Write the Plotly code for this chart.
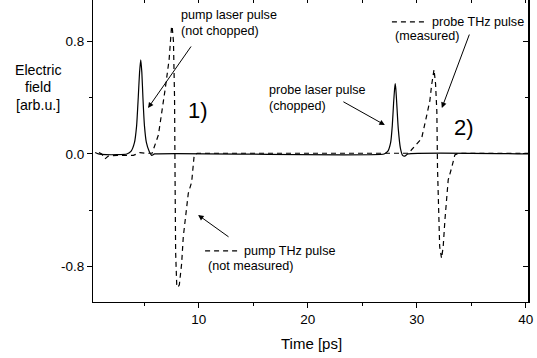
import plotly.graph_objects as go

# ---- data ----
laser_t = [0.5, 0.8, 1.5, 2.5, 3.4, 3.8, 4.1, 4.3, 4.45, 4.57, 4.68, 4.78, 4.88, 5.02, 5.2, 5.45, 5.7, 5.95,
           27.0, 27.35, 27.6, 27.75, 27.87, 27.96, 28.02, 28.08, 28.16, 28.3, 28.5, 28.7, 28.9, 29.2, 40.2]
laser_e = [0.01, 0.0, -0.005, -0.005, 0.0, 0.02, 0.08, 0.2, 0.4, 0.58, 0.67, 0.58, 0.4, 0.2, 0.08, 0.02, -0.01, 0.0,
           0.0, 0.02, 0.08, 0.2, 0.36, 0.46, 0.5, 0.46, 0.36, 0.18, 0.04, -0.01, -0.015, 0.0, 0.0]

thz_t = [0.85, 1.1, 1.4, 1.7, 2.5, 4.0, 4.6, 5.1, 5.72, 6.3,
         6.9, 7.28, 7.5, 7.56, 7.68, 7.78, 7.83, 7.88, 7.98, 8.08,
         8.22, 8.43, 8.58, 8.83, 9.04, 9.35, 9.58, 9.85, 29.3, 29.52,
         30.44, 30.9, 31.2, 31.36, 31.5, 31.58, 31.72, 31.84, 31.9, 32.0,
         32.1, 32.27, 32.42, 32.58, 32.73, 32.88, 33.19, 33.49, 33.8, 40.2]
thz_e = [0.01, 0.0, -0.035, -0.015, -0.01, -0.01, 0.01, 0.005, 0.005, 0.135,
         0.45, 0.67, 0.9, 0.91, 0.8, 0.4, -0.2, -0.7, -0.93, -0.95,
         -0.93, -0.78, -0.59, -0.40, -0.28, -0.20, -0.01, 0.005, 0.005, 0.03,
         0.11, 0.27, 0.38, 0.49, 0.585, 0.6, 0.5, 0.3, -0.1, -0.5,
         -0.66, -0.742, -0.66, -0.47, -0.35, -0.185, -0.10, -0.007, 0.005, 0.005]

x_tickvals = [10, 20, 30, 40]
x_ticktext = ["10", "20", "30", "40"]
x_minor = [5, 15, 25, 35]
y_tickvals = [-0.8, 0.0, 0.8]
y_ticktext = ["-0.8", "0.0", "0.8"]
y_minor = [-0.4, 0.4]
y_title_lines = ["Electric", "field", "[arb.u.]"]

X_RANGE = [0.3, 40.2]
Y_RANGE = [-1.053, 1.095]

FONT = "Liberation Sans, Arial, sans-serif"
DASH = "5px,4px"

fig = go.Figure()
fig.add_trace(go.Scatter(x=laser_t, y=laser_e, mode="lines",
                         line=dict(color="black", width=1.2, shape="spline", smoothing=0.5),
                         showlegend=False, hoverinfo="skip"))
fig.add_trace(go.Scatter(x=thz_t, y=thz_e, mode="lines",
                         line=dict(color="black", width=1.2, dash=DASH),
                         showlegend=False, hoverinfo="skip"))
# empty trace to register mirrored axes
fig.add_trace(go.Scatter(x=[], y=[], xaxis="x2", yaxis="y2", showlegend=False, hoverinfo="skip"))

tickfont = dict(family=FONT, size=13.5, color="black")

fig.update_layout(
    width=537, height=358,
    margin=dict(l=93, r=9, t=0, b=56),
    paper_bgcolor="white", plot_bgcolor="white",
    font=dict(family=FONT, color="black"),
    xaxis=dict(range=X_RANGE, showgrid=False, zeroline=False,
               showline=True, linecolor="black", linewidth=1,
               ticks="outside", ticklen=5, tickwidth=1, tickcolor="black",
               tickvals=x_tickvals, ticktext=x_ticktext, tickfont=tickfont,
               minor=dict(tickvals=x_minor, ticks="outside", ticklen=3, tickcolor="black", showgrid=False)),
    yaxis=dict(range=Y_RANGE, showgrid=False, zeroline=False,
               showline=True, linecolor="black", linewidth=1,
               ticks="outside", ticklen=5, tickwidth=1, tickcolor="black",
               tickvals=y_tickvals, ticktext=y_ticktext, tickfont=tickfont,
               minor=dict(tickvals=y_minor, ticks="outside", ticklen=3, tickcolor="black", showgrid=False)),
    xaxis2=dict(range=X_RANGE, overlaying="x", side="top", showgrid=False, zeroline=False,
                showline=False, ticks="inside", ticklen=3, tickcolor="black",
                tickvals=x_minor + x_tickvals, showticklabels=False),
    yaxis2=dict(range=Y_RANGE, overlaying="y", side="right", showgrid=False, zeroline=False,
                showline=True, linecolor="black", linewidth=1.5,
                ticks="inside", ticklen=5, tickcolor="black",
                tickvals=y_tickvals, showticklabels=False,
                minor=dict(tickvals=y_minor, ticks="inside", ticklen=3, tickcolor="black", showgrid=False)),
)

afont = dict(family=FONT, size=12.6, color="black")
bigfont = dict(family=FONT, size=22, color="black")
titlefont = dict(family=FONT, size=14.2, color="black")

def text(x, y, s, font=afont, xanchor="left", xref="x", yref="y"):
    fig.add_annotation(x=x, y=y, text=s, showarrow=False, xref=xref, yref=yref,
                       xanchor=xanchor, yanchor="middle", align="left", font=font)

def arrow(x_head, y_head, x_tail, y_tail):
    fig.add_annotation(x=x_head, y=y_head, ax=x_tail, ay=y_tail, xref="x", yref="y",
                       axref="x", ayref="y", text="", showarrow=True,
                       arrowhead=2, arrowsize=1.1, arrowwidth=1, arrowcolor="black")

def dash_sample(x0, x1, y):
    fig.add_shape(type="line", x0=x0, x1=x1, y0=y, y1=y, xref="x", yref="y",
                  line=dict(color="black", width=1.2, dash=DASH))

# pump laser pulse
text(8.2, 0.935, "pump laser pulse<br>(not chopped)")
arrow(5.35, 0.327, 9.39, 0.775)
text(9.95, 0.31, "1)", font=bigfont, xanchor="center")

# probe laser pulse
text(16.3, 0.40, "probe laser pulse<br>(chopped)")
arrow(27.07, 0.206, 23.13, 0.377)

# probe THz pulse
dash_sample(27.72, 30.75, 0.939)
text(31.2, 0.939, "probe THz pulse")
text(27.78, 0.84, "(measured)")
arrow(32.3, 0.327, 34.87, 0.86)
text(34.32, 0.185, "2)", font=bigfont, xanchor="center")

# pump THz pulse
dash_sample(10.58, 13.6, -0.69)
text(13.97, -0.69, "pump THz pulse")
text(10.67, -0.80, "(not measured)")
arrow(9.94, -0.434, 12.87, -0.597)

# axis titles
for s, yv in zip(y_title_lines, [0.60, 0.473, 0.346]):
    fig.add_annotation(x=-0.126, y=yv, xref="paper", yref="y", text=s, borderpad=0,
                       showarrow=False, xanchor="center", yanchor="middle", font=titlefont)
fig.add_annotation(x=20.36, y=-0.136, xref="x", yref="paper", text="Time [ps]",
                   showarrow=False, xanchor="center", yanchor="middle",
                   font=dict(family=FONT, size=15, color="black"))

fig.write_html("out.html")
